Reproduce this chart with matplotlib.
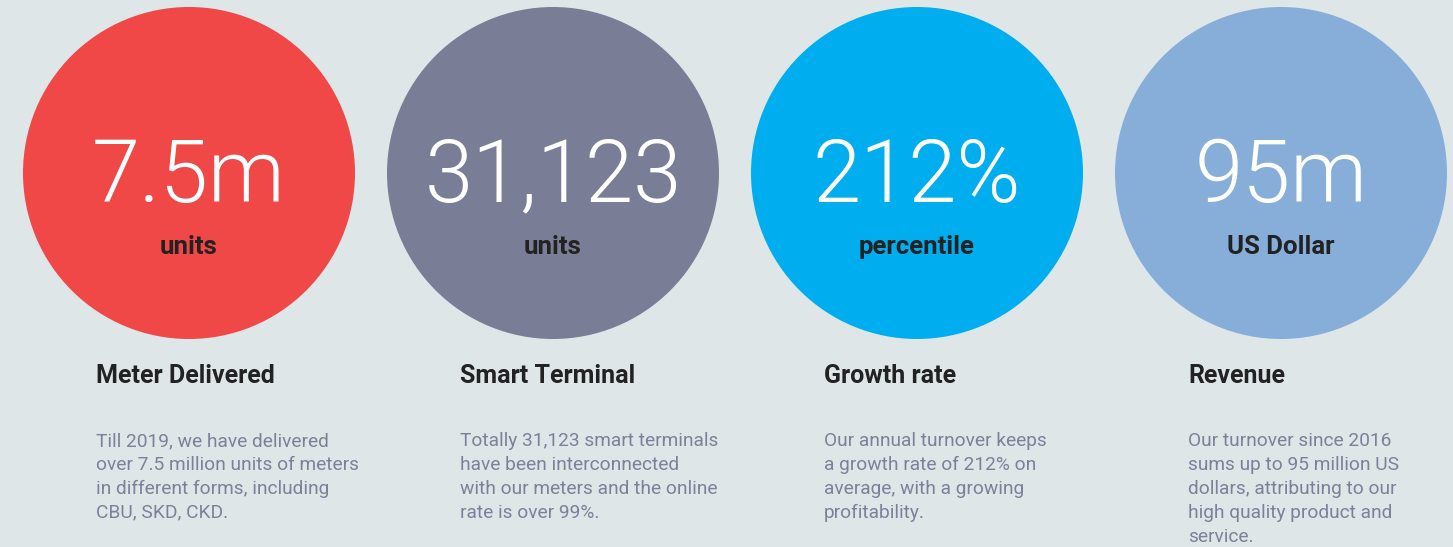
import matplotlib.pyplot as plt
from matplotlib.patches import Circle

# Figures shown in the circles
values = ["7.5m", "31,123", "212%", "95m"]
units = ["units", "units", "percentile", "US Dollar"]
titles = ["Meter Delivered", "Smart Terminal", "Growth rate", "Revenue"]
descriptions = [
    "Till 2019, we have delivered\nover 7.5 million units of meters\nin different forms, including\nCBU, SKD, CKD.",
    "Totally 31,123 smart terminals\nhave been interconnected\nwith our meters and the online\nrate is over 99%.",
    "Our annual turnover keeps\na growth rate of 212% on\naverage, with a growing\nprofitability.",
    "Our turnover since 2016\nsums up to 95 million US\ndollars, attributing to our\nhigh quality product and\nservice.",
]
colors = ["#f04747", "#797e96", "#00aeef", "#87aed9"]

bg = "#dfe6e8"
fig = plt.figure(figsize=(14.53, 5.47), dpi=100)
fig.patch.set_facecolor(bg)
ax = fig.add_axes([0, 0, 1, 1])
ax.set_facecolor(bg)
ax.set_xlim(0, 1453)
ax.set_ylim(547, 0)
ax.axis("off")

step = 364
x0 = 189
cy = 173
radius = 166

for i in range(len(values)):
    cx = x0 + i * step
    ax.add_patch(Circle((cx, cy), radius, color=colors[i], lw=0))
    ax.text(cx, 178, values[i], ha="center", va="center", color="white",
            fontsize=62.5, family="Roboto", fontweight=300)
    ax.text(cx, 247, units[i], ha="center", va="center", color="#222222",
            fontsize=18.5, family="Roboto", fontweight="bold")
    left = cx - 93
    ax.text(left, 376, titles[i], ha="left", va="center", color="#222222",
            fontsize=18, family="Roboto", fontweight="bold")
    ax.text(left, 432, descriptions[i], ha="left", va="top", color="#7c8199",
            fontsize=13.8, family="Roboto", linespacing=1.42)

fig.savefig("out.png", dpi=100, facecolor=bg)
